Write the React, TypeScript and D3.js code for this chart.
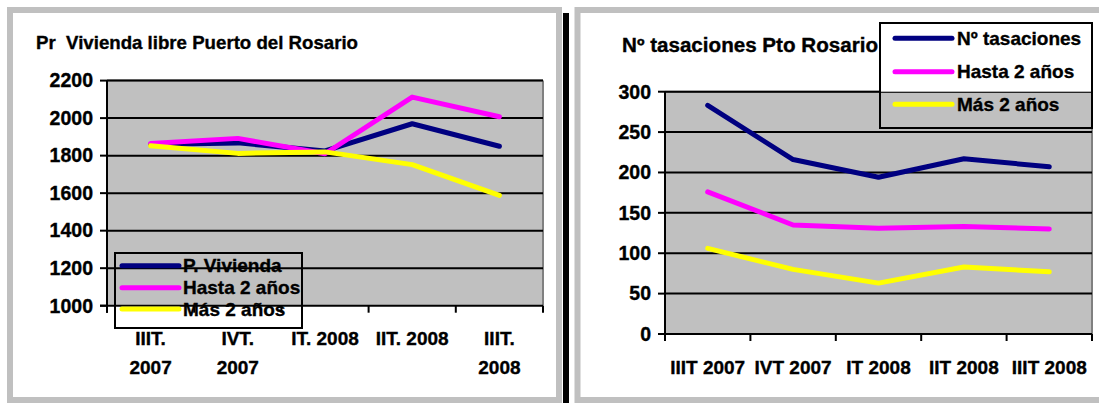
import React from "react";
import * as d3 from "d3";

// ---------- Data ----------
const leftTitle = "Pr  Vivienda libre Puerto del Rosario";
const leftCategories: string[][] = [["IIIT.", "2007"], ["IVT.", "2007"], ["IT. 2008"], ["IIT. 2008"], ["IIIT.", "2008"]];
const leftSeriesNames = ["P. Vivienda", "Hasta 2 años", "Más 2 años"];
const leftPVivienda = [1860, 1868, 1825, 1970, 1850];
const leftHasta2 = [1865, 1892, 1810, 2112, 2007];
const leftMas2 = [1853, 1812, 1820, 1752, 1588];
const leftTicks = [1000, 1200, 1400, 1600, 1800, 2000, 2200];

const rightTitle = "Nº tasaciones Pto Rosario";
const rightCategories = ["IIIT 2007", "IVT 2007", "IT 2008", "IIT 2008", "IIIT 2008"];
const rightSeriesNames = ["Nº tasaciones", "Hasta 2 años", "Más 2 años"];
const rightTasaciones = [283, 216, 194, 217, 207];
const rightHasta2 = [176, 135, 131, 133, 130];
const rightMas2 = [106, 80, 63, 83, 77];
const rightTicks = [0, 50, 100, 150, 200, 250, 300];

const seriesColors = ["#000080", "#FF00FF", "#FFFF00"];
const FONT = "'Liberation Sans', Arial, sans-serif";
const TXT = { fontWeight: "bold" as const, fontFamily: FONT, stroke: "#000", strokeWidth: 0.35 };

type PlotProps = {
  x0: number; x1: number; y0: number; y1: number;
  domain: [number, number];
  ticks: number[];
  categories: string[];
  series: number[][];
};

function Plot({ x0, x1, y0, y1, domain, ticks, categories, series }: PlotProps) {
  const x = d3.scaleBand<string>().domain(categories).range([x0, x1]).padding(0);
  const y = d3.scaleLinear().domain(domain).range([y1, y0]);
  const bw = x.bandwidth();
  const line = d3
    .line<number>()
    .x((_, i) => (x(categories[i]) as number) + bw / 2)
    .y((d) => y(d));
  return (
    <g>
      <rect x={x0} y={y0} width={x1 - x0} height={y1 - y0} fill="#C0C0C0" />
      <line x1={x0} x2={x1} y1={y0} y2={y0} stroke="#808080" strokeWidth={2} />
      <line x1={x1} x2={x1} y1={y0} y2={y1} stroke="#808080" strokeWidth={2} />
      {ticks.filter((t) => t !== domain[0]).map((t) => (
        <line key={"g" + t} x1={x0} x2={x1} y1={y(t)} y2={y(t)} stroke="#000" strokeWidth={2} />
      ))}
      {ticks.map((t) => (
        <line key={"t" + t} x1={x0 - 7} x2={x0} y1={y(t)} y2={y(t)} stroke="#000" strokeWidth={2} />
      ))}
      {categories.map((c) => (
        <line key={"xt" + c} x1={x(c) as number} x2={x(c) as number} y1={y1} y2={y1 + 7} stroke="#000" strokeWidth={2} />
      ))}
      <line x1={x1} x2={x1} y1={y1} y2={y1 + 7} stroke="#000" strokeWidth={2} />
      <line x1={x0} x2={x0} y1={y0} y2={y1 + 7} stroke="#000" strokeWidth={2} />
      <line x1={x0 - 7} x2={x1} y1={y1} y2={y1} stroke="#000" strokeWidth={2} />
      {series.map((s, i) => (
        <path key={"s" + i} d={line(s) || ""} fill="none" stroke={seriesColors[i]} strokeWidth={5} strokeLinejoin="round" strokeLinecap="round" />
      ))}
      {ticks.map((t) => (
        <text key={"yl" + t} x={x0 - 14} y={y(t)} dy="0.35em" textAnchor="end" fontSize={19.5} {...TXT}>
          {t}
        </text>
      ))}
    </g>
  );
}

type LegendProps = { x: number; y: number; w: number; h: number; rows: number[]; names: string[]; lx0: number; lx1: number; tx: number };
function Legend({ x, y, w, h, rows, names, lx0, lx1, tx }: LegendProps) {
  return (
    <g>
      <rect x={x} y={y} width={w} height={h} fill="none" stroke="#000" strokeWidth={2} />
      {names.map((n, i) => (
        <g key={n}>
          <line x1={lx0} x2={lx1} y1={rows[i]} y2={rows[i]} stroke={seriesColors[i]} strokeWidth={5} strokeLinecap="round" />
          <text x={tx} y={rows[i]} dy="0.35em" fontSize={19} {...TXT}>
            {n}
          </text>
        </g>
      ))}
    </g>
  );
}

export default function App() {
  const lx = d3.scaleBand<string>().domain(leftCategories.map((c) => c.join(" "))).range([107, 543]);
  const rx = d3.scaleBand<string>().domain(rightCategories).range([665, 1092]);
  return (
    <svg width={1099} height={403} style={{ position: "absolute", left: 0, top: 0, background: "#fff" }}>
      {/* frames */}
      <rect x={10} y={10} width={549} height={390} fill="#fff" stroke="#C0C0C0" strokeWidth={6} />
      <rect x={563} y={13} width={6} height={392} fill="#000" />
      <rect x={577.5} y={10} width={560} height={390} fill="#fff" stroke="#C0C0C0" strokeWidth={6} />

      {/* left chart */}
      <text x={36} y={48.5} fontSize={18.5} textLength={322} lengthAdjust="spacingAndGlyphs" style={{ whiteSpace: "pre" }} {...TXT}>
        {leftTitle}
      </text>
      <Plot
        x0={107} x1={543} y0={80.6} y1={305.7}
        domain={[1000, 2200]} ticks={leftTicks}
        categories={leftCategories.map((c) => c.join(" "))}
        series={[leftPVivienda, leftHasta2, leftMas2]}
      />
      {leftCategories.map((c) => {
        const key = c.join(" ");
        const cx = (lx(key) as number) + lx.bandwidth() / 2;
        return (
          <text key={key} textAnchor="middle" fontSize={19} {...TXT}>
            {c.map((ln, i) => (
              <tspan key={i} x={cx} y={338 + i * 29} dy="0.35em">{ln}</tspan>
            ))}
          </text>
        );
      })}
      <Legend x={115} y={253} w={187} h={75} rows={[265.7, 287.7, 309]} names={leftSeriesNames} lx0={122} lx1={179} tx={183} />

      {/* right chart */}
      <text x={622} y={52} fontSize={19.5} textLength={256} lengthAdjust="spacingAndGlyphs" {...TXT}>
        {rightTitle}
      </text>
      <Plot
        x0={665} x1={1092} y0={91.7} y1={334}
        domain={[0, 300]} ticks={rightTicks}
        categories={rightCategories}
        series={[rightTasaciones, rightHasta2, rightMas2]}
      />
      {rightCategories.map((c) => (
        <text key={c} x={(rx(c) as number) + rx.bandwidth() / 2} y={367} dy="0.35em" textAnchor="middle" fontSize={19} {...TXT}>
          {c}
        </text>
      ))}
      <rect x={881} y={24} width={210} height={67.7} fill="#fff" />
      <Legend x={880} y={23} w={212} h={105} rows={[38.3, 71.7, 104.3]} names={rightSeriesNames} lx0={895} lx1={952} tx={957} />
    </svg>
  );
}
